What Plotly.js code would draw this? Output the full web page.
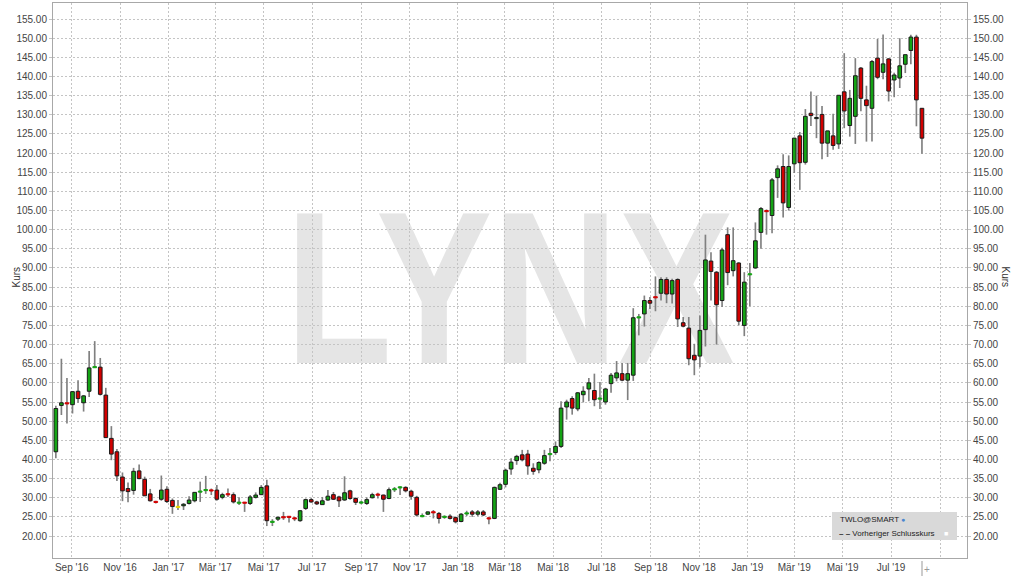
<!DOCTYPE html>
<html><head><meta charset="utf-8">
<script src="https://cdn.plot.ly/plotly-3.0.1.min.js"></script>
<style>
html,body{margin:0;padding:0;background:#fff}
#chart{width:1024px;height:576px}
#chart .layer-below text{transform-box:fill-box;transform-origin:center;transform:scaleX(0.8)}
</style>
</head><body><div id="chart"></div>
<script>
// Weekly candles, TWLO, week-ending Fridays starting here
const firstWeek = '2016-08-12';

const opens = [42.0,54.1,54.8,54.3,57.8,54.8,57.8,64.0,64.1,56.8,
 45.5,42.0,35.4,32.4,31.9,37.0,34.8,31.0,29.0,29.6,
 32.2,29.3,27.6,27.9,28.5,29.2,31.5,31.9,32.0,32.0,
 30.1,31.0,30.8,28.6,28.8,28.5,30.1,30.8,33.1,23.6,
 24.4,25.0,25.1,24.7,24.0,27.2,29.5,28.9,28.2,29.4,
 30.8,30.2,29.4,31.8,29.8,28.6,28.5,30.0,30.9,30.7,
 29.8,32.1,32.6,32.7,31.7,30.1,25.1,25.7,26.3,25.9,
 24.9,25.2,24.8,23.8,25.8,26.3,25.7,26.3,24.7,24.6,
 32.2,33.5,37.5,39.7,41.2,41.4,37.7,37.3,39.0,41.3,
 41.8,43.4,53.7,55.9,53.2,56.9,58.4,58.0,55.8,55.0,
 59.8,61.3,62.4,60.7,62.0,77.0,78.0,81.5,82.5,83.4,
 87.0,83.2,87.0,75.7,74.3,67.2,67.0,73.9,91.8,88.9,
 81.5,98.7,89.3,91.3,75.0,88.2,90.0,99.3,105.0,103.7,
 113.6,116.5,105.8,117.2,124.5,117.6,130.4,129.0,130.1,122.6,
 124.5,122.4,136.0,127.2,129.6,142.2,133.9,131.7,144.8,141.1,
 144.6,139.1,139.6,143.2,146.8,150.3,131.7];

const highs = [54.0,66.3,61.3,57.8,60.7,56.8,68.3,70.9,66.5,58.7,
 48.7,42.7,36.6,34.0,37.8,38.7,35.5,32.3,29.2,35.8,
 33.0,29.8,29.4,28.6,30.4,31.4,34.2,35.7,32.4,33.3,
 31.3,32.4,31.4,30.1,28.9,30.7,31.4,33.3,34.7,24.4,
 25.0,26.3,25.2,25.0,26.8,29.8,30.0,29.2,30.2,32.0,
 31.5,30.5,35.6,32.1,30.1,29.2,30.1,31.3,31.3,30.8,
 32.7,32.8,33.0,33.0,32.1,30.5,25.9,26.4,26.8,26.3,
 25.4,25.7,25.1,26.0,26.6,26.8,26.8,26.8,25.0,32.9,
 33.9,37.6,40.3,41.2,42.5,42.5,39.0,39.5,42.5,43.0,
 44.7,55.2,55.6,56.5,57.6,59.1,61.3,62.4,60.2,58.7,
 62.6,65.7,65.2,65.2,79.5,78.0,82.8,82.4,87.8,87.6,
 87.6,87.2,87.3,77.2,77.2,70.2,77.6,98.7,94.1,89.2,
 95.3,100.6,100.6,91.5,88.9,91.3,101.9,105.9,105.3,113.5,
 116.8,119.7,119.4,124.0,125.5,131.5,136.1,135.0,132.3,125.8,
 130.3,135.1,146.1,136.5,144.8,142.5,137.6,144.3,149.8,151.0,
 144.8,141.0,150.0,145.7,150.9,150.9,131.7];

const lows = [40.3,51.6,49.4,52.0,54.8,52.5,56.3,64.0,56.7,45.7,
 39.8,34.4,29.1,28.8,30.8,34.8,30.5,29.0,28.5,29.2,
 28.6,25.8,26.8,26.8,28.2,28.8,28.9,31.0,30.7,29.2,
 29.6,30.2,28.5,28.1,26.3,28.1,29.8,30.7,22.6,22.6,
 23.9,24.2,23.5,23.9,23.7,26.8,28.7,28.1,28.1,29.2,
 29.4,27.6,29.2,29.5,28.1,28.3,28.1,29.8,29.8,26.3,
 29.6,31.5,30.7,31.4,29.5,25.1,24.9,25.5,24.6,23.3,
 24.5,24.3,23.3,23.6,25.2,25.0,25.2,25.2,23.1,24.4,
 32.0,32.7,36.0,38.6,39.5,36.0,36.0,36.4,38.6,39.5,
 41.2,43.0,50.4,51.7,52.6,54.9,55.2,53.9,53.2,54.3,
 57.4,60.4,60.4,55.5,60.5,72.4,74.7,79.3,78.7,81.5,
 80.8,80.7,74.6,74.5,64.6,62.0,64.1,69.5,81.5,70.0,
 79.8,85.5,87.8,75.0,72.2,80.0,89.8,95.0,98.7,99.1,
 108.3,103.2,105.0,114.8,110.4,117.0,127.1,123.9,118.4,119.0,
 120.9,121.1,126.5,124.3,122.4,130.9,123.0,123.0,139.3,139.3,
 133.5,134.6,137.0,140.9,143.2,127.0,119.8];

const closes = [53.3,54.8,54.5,57.7,55.9,56.6,63.9,64.2,57.0,45.7,
 41.4,35.7,31.8,31.6,36.9,35.0,30.5,29.2,28.8,32.0,
 29.0,27.7,27.6,28.3,29.4,31.4,31.7,32.1,31.8,29.6,
 30.8,30.8,28.9,28.8,28.6,30.2,30.7,32.7,24.0,23.8,
 24.9,24.8,24.9,24.5,26.6,29.5,28.9,28.4,29.2,30.4,
 29.6,29.2,31.3,29.8,28.8,28.9,29.5,30.8,30.7,29.6,
 32.1,32.3,32.8,31.8,30.4,25.5,25.3,26.3,26.1,24.6,
 25.1,24.6,23.7,25.7,26.0,25.7,26.3,25.5,24.5,32.7,
 33.4,37.2,39.3,40.8,39.9,38.3,36.9,39.2,41.0,41.5,
 43.4,53.4,55.0,53.4,57.4,57.8,60.0,55.6,56.0,58.4,
 62.0,62.6,60.7,62.4,77.0,77.2,81.5,80.8,82.2,87.0,
 83.2,86.7,76.7,74.8,66.3,66.0,73.7,92.1,89.1,80.4,
 94.7,88.8,91.9,76.1,86.3,88.5,97.1,105.5,104.7,113.0,
 115.9,107.0,116.5,123.9,117.5,129.6,129.8,129.3,122.6,125.8,
 122.0,135.1,131.0,134.3,140.2,134.3,132.4,143.9,139.8,143.3,
 136.2,140.4,142.8,145.7,150.3,133.9,123.9];

const xTickVals = ['2016-09-01','2016-11-01','2017-01-01','2017-03-01','2017-05-01','2017-07-01',
 '2017-09-01','2017-11-01','2018-01-01','2018-03-01','2018-05-01','2018-07-01',
 '2018-09-01','2018-11-01','2019-01-01','2019-03-01','2019-05-01','2019-07-01','2019-09-01'];
const xTickText = ["Sep '16","Nov '16","Jan '17","Mär '17","Mai '17","Jul '17",
 "Sep '17","Nov '17","Jan '18","Mär '18","Mai '18","Jul '18",
 "Sep '18","Nov '18","Jan '19","Mär '19","Mai '19","Jul '19",""];
const yTickVals = [20,25,30,35,40,45,50,55,60,65,70,75,80,85,90,95,100,105,110,115,
 120,125,130,135,140,145,150,155];

const symbolName = 'TWLO@SMART';
const legendLine = 'Vorheriger Schlusskurs';
const axisTitle = 'Kurs';
const watermark = 'LYNX';

// ---- build
const DAY = 86400000;
const [fy, fm, fd] = firstWeek.split('-').map(Number);
const t0 = Date.UTC(fy, fm - 1, fd);
const dates = opens.map((_, i) => new Date(t0 + i*7*DAY).toISOString().slice(0,10));

const GREEN = '#14a314', RED = '#d20000', YELLOW = '#e6d600', OUT = '#1a1a1a';
const minBody = 0.3;
const bodyBase = [], bodyLen = [], bodyFill = [], bodyLine = [];
opens.forEach((o, i) => {
  const c = closes[i];
  const d = Math.abs(c - o);
  const fill = c > o ? GREEN : (c < o ? RED : YELLOW);
  bodyFill.push(fill);
  if (d < minBody) {
    bodyBase.push((o + c)/2 - minBody/2); bodyLen.push(minBody); bodyLine.push(fill);
  } else {
    bodyBase.push(Math.min(o, c)); bodyLen.push(d); bodyLine.push(OUT);
  }
});
const wickLen = highs.map((h, i) => h - lows[i]);

const yRange = [14.26, 159.2];
const FONT = 'Liberation Sans, Arial, sans-serif';

const traces = [
  {type:'bar', x:dates, y:wickLen, base:lows, width:2.1*DAY,
   marker:{color:'#808080', line:{width:0}}, hoverinfo:'skip', showlegend:false, xaxis:'x', yaxis:'y'},
  {type:'bar', x:dates, y:bodyLen, base:bodyBase, width:4.6*DAY,
   marker:{color:bodyFill, line:{color:bodyLine, width:1}}, hoverinfo:'skip', showlegend:false, xaxis:'x', yaxis:'y2'}
];

const px = v => (v - 53)/914;      // pixel -> paper x
const py = v => (558 - v)/555;     // pixel -> paper y

const yAxisCommon = {range:yRange, tickmode:'array', tickvals:yTickVals, tickformat:'.2f',
  zeroline:false, showline:true, linecolor:'#a8a8a8', linewidth:1,
  ticks:'outside', ticklen:3, tickcolor:'#c4c4c4', tickfont:{size:10, color:'#444'}};

const layout = {
  width:1024, height:576,
  margin:{l:53, r:57, t:3, b:18, pad:0},
  paper_bgcolor:'#ffffff', plot_bgcolor:'#ffffff',
  barmode:'overlay', showlegend:false,
  font:{family:FONT, size:10, color:'#333'},
  xaxis:{type:'date', range:['2016-08-08 10:00','2019-10-04 19:00'],
    tickmode:'array', tickvals:xTickVals, ticktext:xTickText,
    showgrid:true, gridcolor:'#c4c4c4', griddash:'2px,2px', gridwidth:1,
    showline:true, linecolor:'#a8a8a8', linewidth:1, mirror:true,
    ticks:'', tickfont:{size:10, color:'#444'}, fixedrange:true},
  yaxis:Object.assign({}, yAxisCommon, {showgrid:true, gridcolor:'#c4c4c4', griddash:'2px,2px', gridwidth:1, mirror:true}),
  yaxis2:Object.assign({}, yAxisCommon, {overlaying:'y', side:'right', showgrid:false}),
  shapes:[
    {type:'rect', xref:'paper', yref:'paper', x0:0.15, x1:0.85, y0:0.235, y1:0.815,
     line:{width:0}, fillcolor:'rgba(0,0,0,0)', layer:'below',
     label:{text:watermark, textposition:'middle center',
       font:{family:'Liberation Sans', size:218, color:'#e5e5e5', weight:'bold'}}},
    {type:'rect', xref:'paper', yref:'paper', x0:px(832), x1:px(957), y0:py(540), y1:py(512),
     line:{width:0}, fillcolor:'#d9d9d9', layer:'above'},
    {type:'line', xref:'paper', yref:'paper', x0:px(922), x1:px(922), y0:py(561), y1:py(576),
     line:{width:1, color:'#999'}}
  ],
  annotations:[
    {xref:'paper', yref:'paper', x:px(8), y:py(277), text:axisTitle, showarrow:false, textangle:-90,
     font:{size:10, color:'#333'}},
    {xref:'paper', yref:'paper', x:px(1013), y:py(277), text:axisTitle, showarrow:false, textangle:90,
     font:{size:10, color:'#333'}},
    {xref:'paper', yref:'paper', x:px(838), y:py(519), xanchor:'left', yanchor:'middle', text:symbolName,
     showarrow:false, font:{size:8, color:'#222'}},
    {xref:'paper', yref:'paper', x:px(903), y:py(519), xanchor:'center', yanchor:'middle', text:'●',
     showarrow:false, font:{size:7, color:'#4b86cf'}},
    {xref:'paper', yref:'paper', x:px(837), y:py(533), xanchor:'left', yanchor:'middle',
     text:'<b>– –</b> ' + legendLine, showarrow:false, font:{size:8, color:'#222'}},
    {xref:'paper', yref:'paper', x:px(946), y:py(533), xanchor:'center', yanchor:'middle', text:'■',
     showarrow:false, font:{size:7, color:'#ffffff'}},
    {xref:'paper', yref:'paper', x:px(927), y:py(569), xanchor:'center', yanchor:'middle', text:'+',
     showarrow:false, font:{size:10, color:'#999'}}
  ]
};

Plotly.newPlot('chart', traces, layout, {staticPlot:true, displayModeBar:false});
</script></body></html>
